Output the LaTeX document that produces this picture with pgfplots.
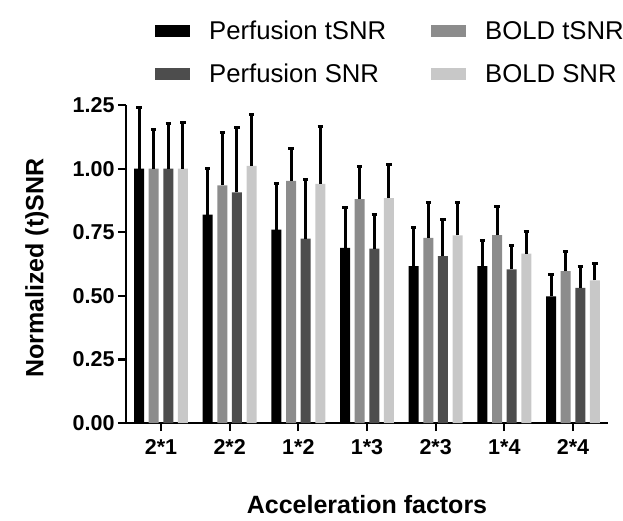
\documentclass[border=0pt]{standalone}
\usepackage{pgfplots}
\pgfplotsset{compat=1.18}
\usepackage{pgfplotstable}
\usepackage{fontspec}
\setmainfont{Liberation Sans}
\definecolor{cBlack}{HTML}{000000}
\definecolor{cGray}{HTML}{8C8C8C}
\definecolor{cDark}{HTML}{4D4D4D}
\definecolor{cLight}{HTML}{C8C8C8}
\pgfplotstableread{
x  pt     ept    bt     ebt    ps     eps    bs     ebs
0  1.000  0.240  1.000  0.154  1.000  0.177  1.000  0.183
1  0.819  0.181  0.934  0.207  0.907  0.253  1.011  0.202
2  0.760  0.183  0.952  0.128  0.725  0.232  0.940  0.225
3  0.688  0.160  0.880  0.130  0.685  0.135  0.884  0.134
4  0.617  0.151  0.728  0.138  0.656  0.142  0.738  0.127
5  0.617  0.102  0.739  0.111  0.604  0.094  0.666  0.086
6  0.498  0.084  0.597  0.076  0.531  0.085  0.561  0.067
}\data
\pgfplotsset{
  mybar/.style={ybar, bar width=10pt, bar shift=0pt, fill=#1, draw=none,
    legend image code/.code={\fill[#1] (0pt,-6pt) rectangle (35pt,6pt);},
    error bars/.cd, y dir=plus, y explicit,
    error bar style={line width=3pt, black, solid},
    error mark=-,
    error mark options={rotate=90, line width=3pt, black, mark size=2.6pt}},
}
\begin{document}
\begin{tikzpicture}
\useasboundingbox (-126pt,-97pt) rectangle (497pt,423pt);
\begin{axis}[
  at={(0pt,0pt)}, anchor=south west,
  scale only axis, width=482pt, height=318pt,
  xmin=-0.51, xmax=6.51, ymin=0, ymax=1.25,
  axis x line=bottom, axis y line=left,
  axis line style={-, line width=2.2pt, black},
  xtick={0,...,6},
  xticklabels={2*1,2*2,1*2,1*3,2*3,1*4,2*4},
  ytick={0,0.25,0.5,0.75,1,1.25},
  yticklabel style={/pgf/number format/.cd, fixed, fixed zerofill, precision=2, assume math mode=true},
  xticklabel style={yshift=-5pt},
  tick align=outside,
  major tick length=8pt,
  tick style={line width=2.2pt, black},
  ticklabel style={font=\fontsize{21.5}{25}\selectfont\bfseries},
  xlabel={Acceleration factors},
  ylabel={Normalized (t)SNR},
  label style={font=\fontsize{25}{29}\selectfont\bfseries},
  xlabel style={at={(axis description cs:0.5,-0.258)}, anchor=center, inner sep=0pt},
  ylabel style={at={(axis description cs:-0.1846,0.487)}, anchor=center},
  legend columns=2,
  legend style={at={(axis description cs:0.06,1.271)}, anchor=north west,
    draw=none, fill=none, inner sep=0pt,
    font=\fontsize{25.7}{30}\selectfont,
    /tikz/every odd column/.append style={column sep=17pt},
    /tikz/every even column/.append style={column sep=43pt},
    row sep=19pt},
  legend cell align=left,
]
\addplot[mybar=cBlack] table[x expr=\thisrow{x}-0.320, y=pt, y error=ept] {\data};
\addlegendentry{Perfusion tSNR}
\addplot[mybar=cGray] table[x expr=\thisrow{x}-0.106, y=bt, y error=ebt] {\data};
\addlegendentry{BOLD tSNR}
\addplot[mybar=cDark] table[x expr=\thisrow{x}+0.106, y=ps, y error=eps] {\data};
\addlegendentry{Perfusion SNR}
\addplot[mybar=cLight] table[x expr=\thisrow{x}+0.320, y=bs, y error=ebs] {\data};
\addlegendentry{BOLD SNR}
\end{axis}
\end{tikzpicture}
\end{document}
